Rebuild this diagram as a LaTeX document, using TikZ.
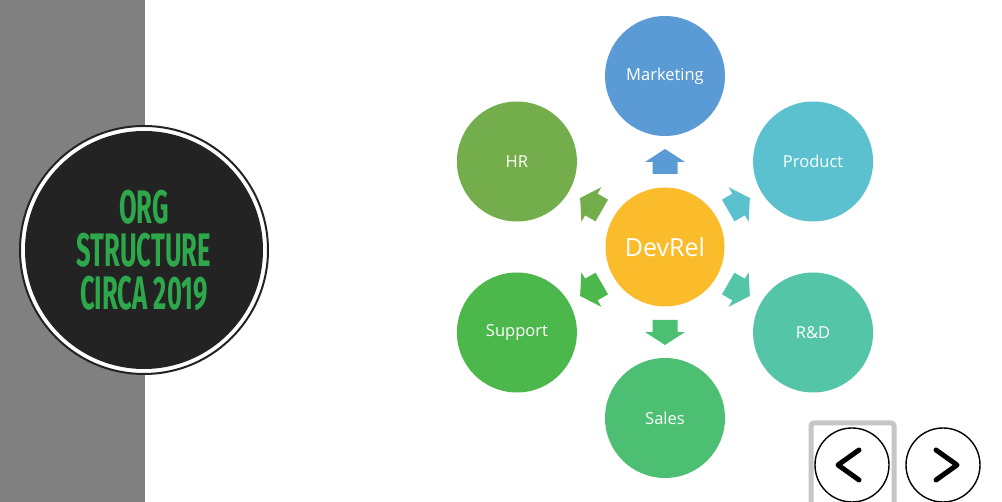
\documentclass[tikz,border=0pt]{standalone}
\usepackage{fontspec}
\setmainfont{Open Sans}
\newfontfamily\titlefont[FakeStretch=0.545]{Fira Sans}
\usepackage{xcolor}
\usetikzlibrary{calc,positioning}

\definecolor{bandgray}{HTML}{808080}
\definecolor{badgeink}{HTML}{232323}
\definecolor{titlegreen}{HTML}{2DA84B}
\definecolor{devrelc}{HTML}{FBBC2C}
\definecolor{marketingc}{HTML}{5B9BD5}
\definecolor{productc}{HTML}{5BC1CE}
\definecolor{rdc}{HTML}{55C5A7}
\definecolor{salesc}{HTML}{4DBF72}
\definecolor{supportc}{HTML}{4CB74B}
\definecolor{hrc}{HTML}{74AD4B}

\tikzset{
  pics/flowarrow/.style={code={
    \path[pic actions] (-12.5,-12.5) -- (-0.5,-12.5) -- (-0.5,-20) -- (12.5,0) -- (-0.5,20) -- (-0.5,12.5) -- (-12.5,12.5) -- cycle;
  }}
}

\begin{document}
\begin{tikzpicture}[
  x=1pt, y=1pt,
  unit/.style={circle, minimum size=120pt, inner sep=0pt, text=white, font=\fontsize{16.5}{18}\selectfont},
  hub/.style={unit, minimum size=119pt, font=\fontsize{25}{28}\selectfont},
  navbtn/.style={circle, draw=black, line width=1.4pt, minimum size=74pt, inner sep=0pt},
  chevron/.style={draw=black, line width=5pt, line cap=round, line join=round}
]
  \useasboundingbox (0,0) rectangle (1002,502);
  \clip (0,0) rectangle (1002,502);
  \fill[white] (0,0) rectangle (1002,502);
  \fill[bandgray] (0,0) rectangle (145,502);
  % title badge
  \node[circle, draw=badgeink, line width=2pt, fill=white, minimum size=248pt, inner sep=0pt] (ring) at (144,252) {};
  \node[circle, fill=badgeink, minimum size=238pt, inner sep=0pt, text=titlegreen, align=center,
        font=\titlefont\bfseries\fontsize{47}{43}\selectfont] (badge) at (ring.center) {ORG\\STRUCTURE\\CIRCA 2019};
  % hub and units
  \node[hub, fill=devrelc] (devrel) at (665,255) {DevRel};
  \foreach \name/\ang/\col/\txt in {
    marketing/90/marketingc/Marketing, product/30/productc/Product, rd/-30/rdc/R\&D,
    sales/-90/salesc/Sales, support/-150/supportc/Support, hr/150/hrc/HR
  } {
    \node[unit, fill=\col] (\name) at ($(devrel)+(\ang:171)$) {\txt};
    \pic[fill=\col, rotate=\ang] at ($(devrel)!0.5!(\name)$) {flowarrow};
  }
  % navigation
  \draw[gray!45, line width=5pt, rounded corners=3pt] (811,-10) rectangle (894,79);
  \node[navbtn] (prev) at (852,37) {};
  \node[navbtn] (next) at (943,37) {};
  \draw[chevron] ($(prev)+(7,15)$) -- ($(prev)+(-14,0)$) -- ($(prev)+(7,-15)$);
  \draw[chevron] ($(next)+(-7,15)$) -- ($(next)+(14,0)$) -- ($(next)+(-7,-15)$);
\end{tikzpicture}
\end{document}
